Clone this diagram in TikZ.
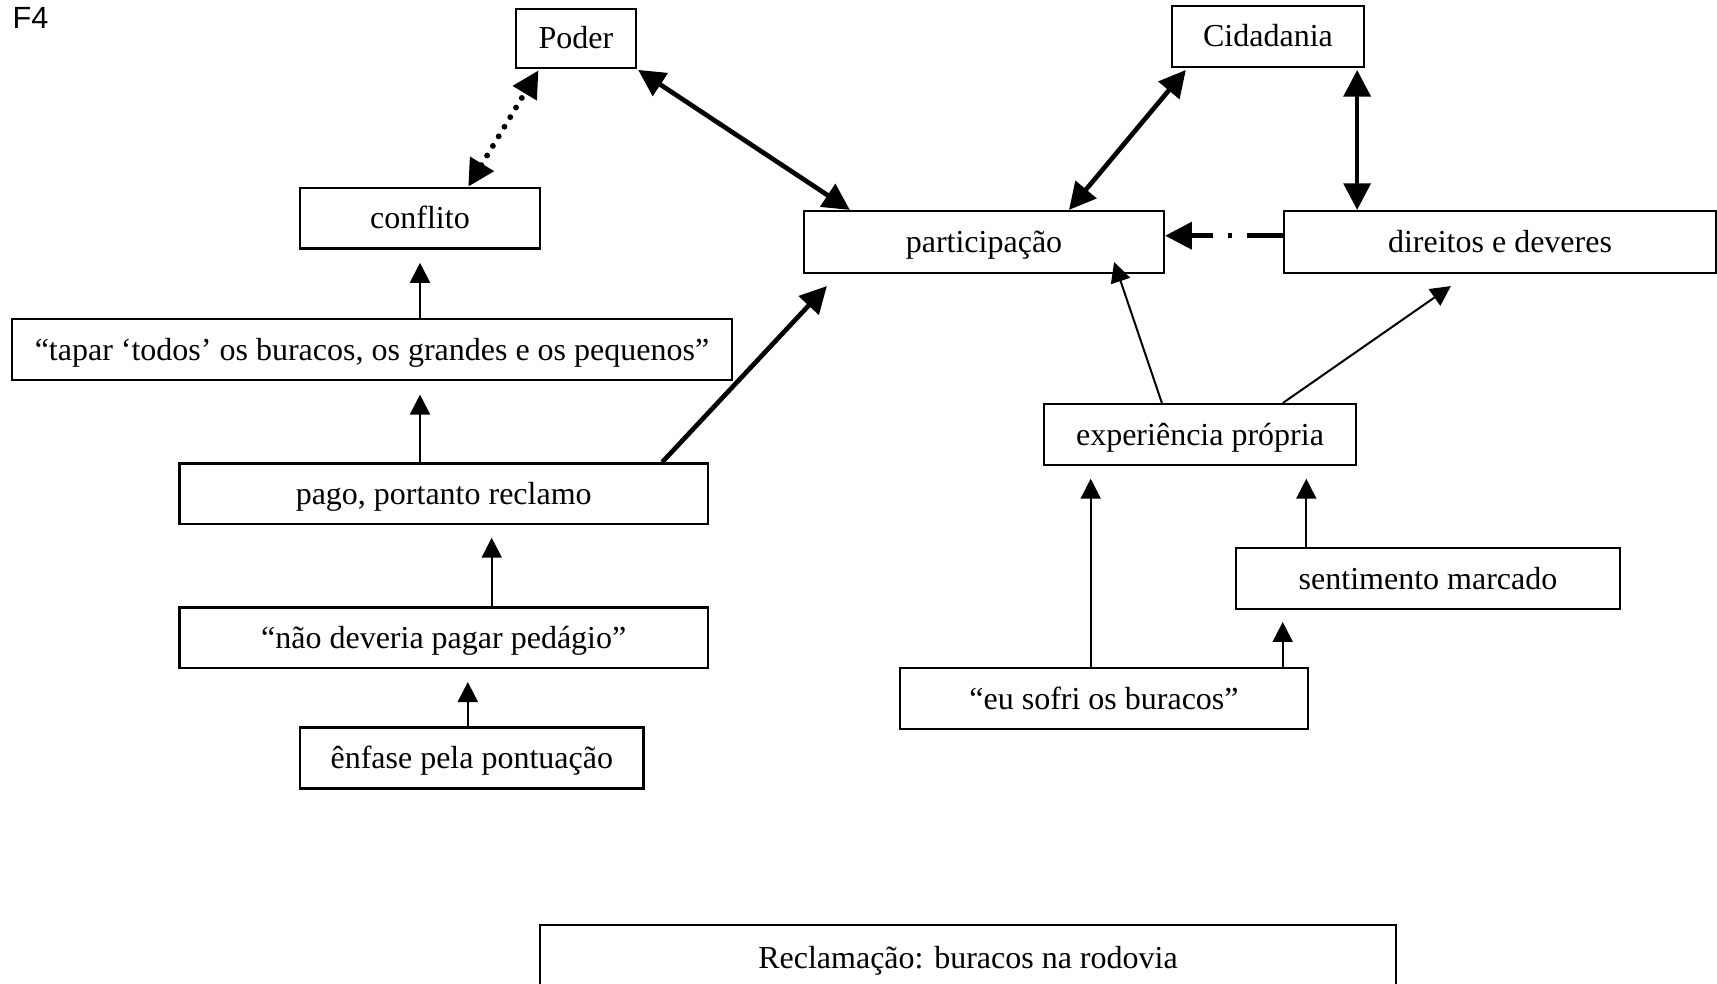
\documentclass[tikz,border=0pt]{standalone}
\usepackage{fontspec}
\setmainfont{Liberation Serif}
\newfontfamily\labelsans{Liberation Sans}
\usetikzlibrary{arrows.meta,calc}

\begin{document}
\begin{tikzpicture}[x=0.375pt,y=-0.375pt,
  box/.style={draw, line width=0.85pt, inner sep=0pt, text height=8pt, text depth=0pt,
    font=\fontsize{12}{14}\selectfont, minimum height=22.8pt},
  thinarrow/.style={line width=0.75pt, -{Triangle[length=7.5pt,width=7.5pt]}},
  heavyarrow/.style={line width=1.75pt, -{Triangle[length=10pt,width=10pt]}},
  heavyboth/.style={line width=1.75pt, {Triangle[length=10pt,width=10pt]}-{Triangle[length=10pt,width=10pt]}},
  dottedboth/.style={line width=2.2pt, line cap=round, dash pattern=on 0pt off 4.2pt,
    {Triangle[length=10pt,width=10pt]}-{Triangle[length=10pt,width=10pt]}},
  dashdotarrow/.style={line width=1.75pt, dash pattern=on 13.5pt off 5.5pt on 1.6pt off 5.5pt,
    -{Triangle[length=10pt,width=10pt]}},
]
\useasboundingbox (0,0) rectangle (1717,984);
\clip (0,0) rectangle (1717,984);

% figure tag
\node[anchor=base west, inner sep=0pt, font=\labelsans\fontsize{11.5}{14}\selectfont] (tag) at (12,29) {F4};

% upper concepts
\node[box, minimum width=45pt, minimum height=22.1pt] (poder) at (576,38.3) {Poder};
\node[box, minimum width=72pt, minimum height=22.9pt] (cid) at (1268,36.3) {Cidadania};
\node[box, minimum width=90pt] (conf) at (420,218.2) {conflito};
\node[box, minimum width=135pt, minimum height=23.2pt] (part) at (984,242) {participação};
\node[box, minimum width=162pt, minimum height=23.2pt] (dd) at (1500,242) {direitos e deveres};

% left chain
\node[box, minimum width=270pt] (tap) at (372,349.7) {“tapar ‘todos’ os buracos, os grandes e os pequenos”};
\node[box, minimum width=198.2pt] (pago) at (443.7,493.8) {pago, portanto reclamo};
\node[box, minimum width=198.2pt] (nao) at (443.7,637.8) {“não deveria pagar pedágio”};
\node[box, minimum width=128.8pt] (enf) at (471.8,758) {ênfase pela pontuação};

% right chain
\node[box, minimum width=117pt] (exp) at (1200,434.5) {experiência própria};
\node[box, minimum width=144.2pt] (sent) at (1428,578.7) {sentimento marcado};
\node[box, minimum width=152.9pt] (eu) at (1104,698.7) {“eu sofri os buracos”};

% bottom box, running past the lower edge
\node[box, minimum width=321.2pt, minimum height=24.75pt] (recl) at (968,958) {Reclamação: buracos na rodovia};

% left chain connectors
\draw[thinarrow, shorten >=4.9pt] (tap.north -| conf.south) -- (conf.south);
\draw[thinarrow, shorten >=5pt] (pago.north -| conf.south) -- (tap.south -| conf.south);
\coordinate (n1) at ($(nao.north)+(48,0)$);
\draw[thinarrow, shorten >=4.65pt] (n1) -- (n1 |- pago.south);
\coordinate (e1) at ($(enf.north)+(-4,0)$);
\draw[thinarrow, shorten >=4.75pt] (e1) -- (e1 |- nao.south);

% right chain connectors
\coordinate (u1) at ($(eu.north west)+(191.7,0)$);
\draw[thinarrow, shorten >=4.75pt] (u1) -- (u1 |- exp.south);
\coordinate (u2) at ($(eu.north west)+(383.7,0)$);
\draw[thinarrow, shorten >=4.4pt] (u2) -- (u2 |- sent.south);
\coordinate (s1) at ($(sent.north west)+(71.7,0)$);
\draw[thinarrow, shorten >=4.75pt] (s1) -- (s1 |- exp.south);

\coordinate (pt1) at ($(part.south east)+(-51,-12)$);
\draw[thinarrow] ($(exp.north west)+(119,0)$) -- (pt1);
\coordinate (dt1) at ($(dd.south west)+(168,12)$);
\draw[thinarrow] ($(exp.north west)+(240,0)$) -- (dt1);

% heavy links
\draw[dottedboth] ($(conf.north)+(48.3,0)$) -- ($(poder.south west)+(23.6,1.5)$);
\draw[heavyboth] ($(poder.south east)+(1,1)$) -- ($(part.north west)+(47,0)$);
\draw[heavyboth] ($(cid.south west)+(15,2)$) -- ($(part.north)+(85,0)$);
\coordinate (c1) at ($(cid.south east)+(-8,2)$);
\draw[heavyboth] (c1) -- (c1 |- dd.north);
\coordinate (pp1) at ($(part.south west)+(24,12)$);
\draw[heavyarrow] ($(pago.north east)+(-47,0)$) -- (pp1);
\draw[dashdotarrow] ($(dd.west)+(0,-6.3)$) -- ($(part.east)+(0,-6.3)$);
\end{tikzpicture}
\end{document}
